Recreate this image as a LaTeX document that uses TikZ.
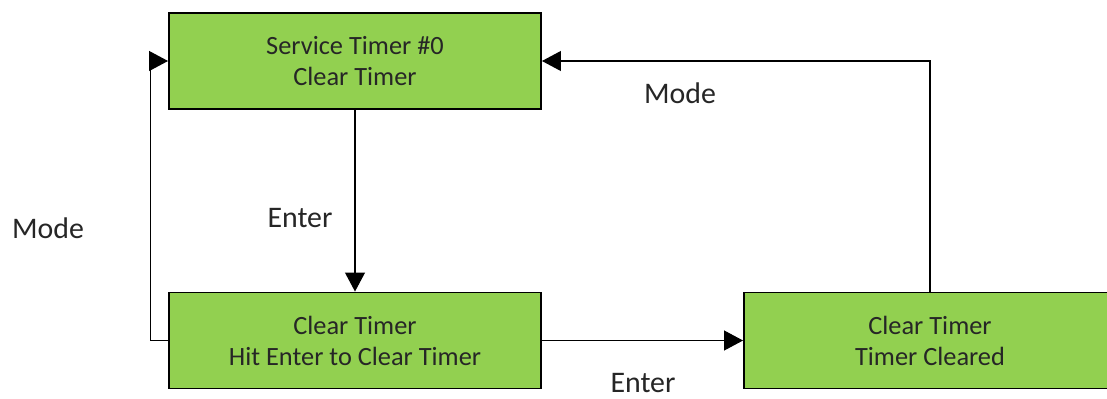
\documentclass[tikz,border=0pt]{standalone}
\usepackage{fontspec}
\setmainfont{Carlito}
\usetikzlibrary{arrows.meta,positioning}

\definecolor{boxgreen}{HTML}{92D050}
\definecolor{inkgray}{HTML}{262626}

\begin{document}
\begin{tikzpicture}[>={Triangle[length=0.38cm,width=0.4cm]},
  statebox/.style={draw=black,line width=1.1pt,fill=boxgreen,minimum width=7.44cm,
    minimum height=1.92cm,align=center,font=\fontsize{15}{17.6}\selectfont,text=inkgray},
  lbl/.style={font=\fontsize{17}{20}\selectfont,text=inkgray},
  every path/.style={line width=0.6pt}]
  \useasboundingbox (0,0) rectangle (22.14,7.96);
  \node[statebox] (svc) at (7.10,6.74) {Service Timer \#0\\Clear Timer};
  \node[statebox] (hit) at (7.10,1.15) {Clear Timer\\Hit Enter to Clear Timer};
  \node[statebox] (done) at (18.60,1.15) {Clear Timer\\Timer Cleared};
  \draw[->] (svc) -- (hit);
  \draw[->] (hit) -- (done);
  \draw[->] (done.north) |- (svc.east);
  \draw[->] (hit.west) -- ++(-0.36,0) coordinate (turn) |- (svc.west);
  \node[lbl] (modeleft) at (0.96,3.40) {Mode};
  \node[lbl] (entermid) at (6.00,3.60) {Enter};
  \node[lbl] (modetop) at (13.60,6.10) {Mode};
  \node[lbl] (enterlow) at (12.86,0.30) {Enter};
\end{tikzpicture}
\end{document}
